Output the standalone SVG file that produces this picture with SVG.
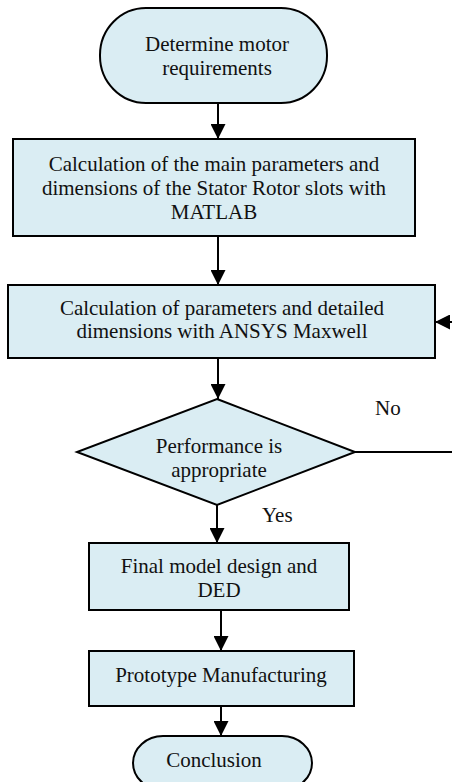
<svg xmlns="http://www.w3.org/2000/svg" width="452" height="782" viewBox="0 0 452 782">
<style>
.n{fill:#DAEDF3;stroke:#000;stroke-width:2}
.t{font-family:"Liberation Serif","Times New Roman",serif;font-size:21px;fill:#111;text-anchor:middle}
.l{font-family:"Liberation Serif","Times New Roman",serif;font-size:21px;fill:#111}
.c{fill:none;stroke:#000;stroke-width:2}
</style>
<defs>
<marker id="ah" markerWidth="15" markerHeight="15" refX="15" refY="7.5" orient="auto" markerUnits="userSpaceOnUse">
<path d="M0,0 L15,7.5 L0,15 Z" fill="#000"/>
</marker>
</defs>
<rect width="452" height="782" fill="#fff"/>
<g id="connectors">
<line class="c" x1="218" y1="103" x2="218" y2="139" marker-end="url(#ah)"/>
<line class="c" x1="218" y1="236" x2="218" y2="285" marker-end="url(#ah)"/>
<line class="c" x1="218" y1="358" x2="218" y2="399" marker-end="url(#ah)"/>
<line class="c" x1="217" y1="505" x2="217" y2="543" marker-end="url(#ah)"/>
<line class="c" x1="221" y1="610" x2="221" y2="651" marker-end="url(#ah)"/>
<line class="c" x1="221" y1="706" x2="221" y2="736" marker-end="url(#ah)"/>
<path class="c" d="M355,452 H460 V322 H435" marker-end="url(#ah)"/>
<text class="l" x="375" y="415">No</text>
<text class="l" x="262" y="522">Yes</text>
</g>
<g id="start">
<rect class="n" x="100" y="8" width="227" height="95" rx="46" ry="47"/>
<text class="t" x="217" y="51">Determine motor</text>
<text class="t" x="217" y="75">requirements</text>
</g>
<g id="matlab">
<rect class="n" x="13" y="139" width="402" height="97"/>
<text class="t" x="214" y="171">Calculation of the main parameters and</text>
<text class="t" x="214" y="195">dimensions of the Stator Rotor slots with</text>
<text class="t" x="214" y="219">MATLAB</text>
</g>
<g id="ansys">
<rect class="n" x="8" y="285" width="427" height="73"/>
<text class="t" x="222" y="315">Calculation of parameters and detailed</text>
<text class="t" x="222" y="338">dimensions with ANSYS Maxwell</text>
</g>
<g id="decision">
<polygon class="n" points="217,399 355,452 217,505 77,452"/>
<text class="t" x="219" y="453">Performance is</text>
<text class="t" x="219" y="477">appropriate</text>
</g>
<g id="final">
<rect class="n" x="89" y="543" width="260" height="67"/>
<text class="t" x="219" y="573">Final model design and</text>
<text class="t" x="219" y="597">DED</text>
</g>
<g id="prototype">
<rect class="n" x="89" y="651" width="265" height="55"/>
<text class="t" x="221" y="682">Prototype Manufacturing</text>
</g>
<g id="conclusion">
<rect class="n" x="133" y="736" width="179" height="54" rx="30" ry="27"/>
<text class="t" x="214" y="767">Conclusion</text>
</g>
</svg>
